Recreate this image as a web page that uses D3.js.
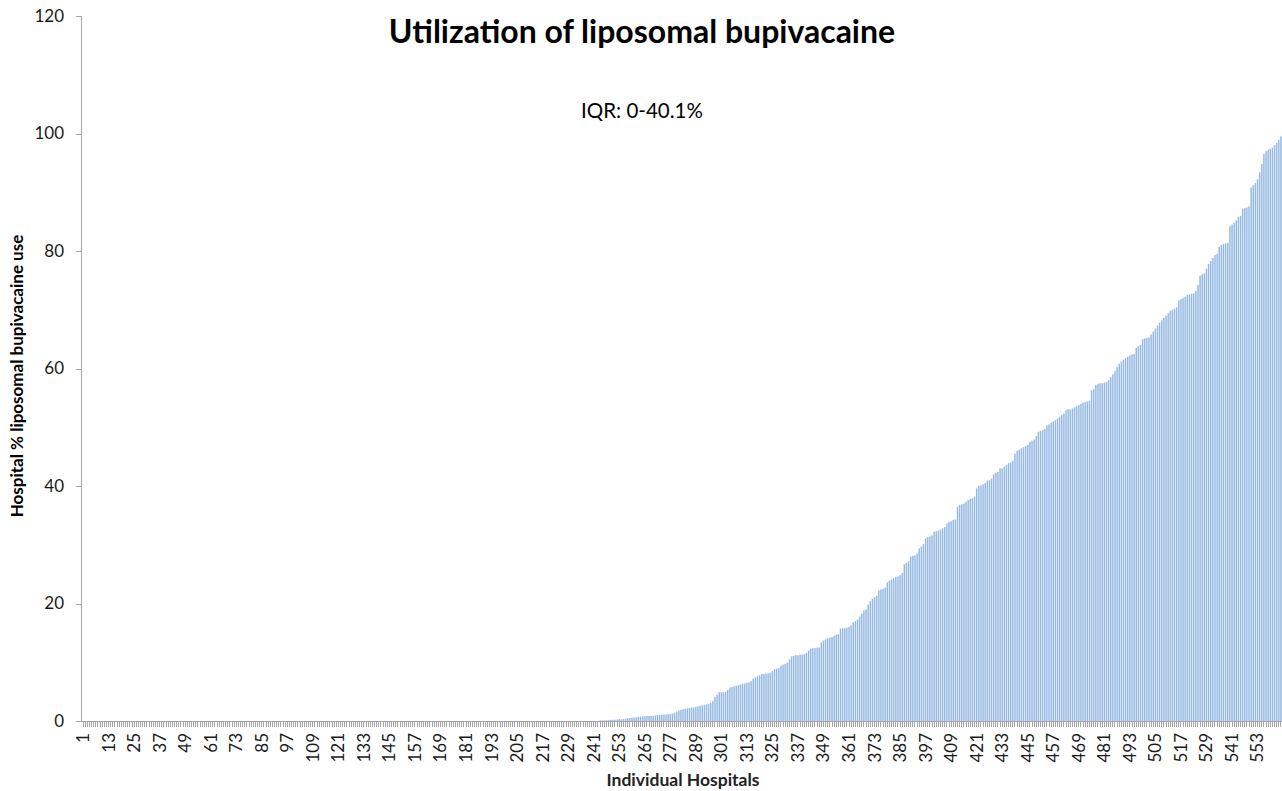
<!DOCTYPE html>
<html>
<meta charset="utf-8">

<head>
    <style>
        body {
            margin: 0;
            background: #fff;
        }

        .bar {
            fill: rgb(150, 185, 228);
        }

        .axis {
            font: 17px Lato, sans-serif;
        }

        .axis path,
        .axis line {
            fill: none;
            stroke: #a6a6a6;
            shape-rendering: crispEdges;
        }

        .axis text {
            fill: #1a1a1a;
        }
    </style>
</head>

<body>
    <div id="chart"></div>
    <script src="https://d3js.org/d3.v7.min.js"></script>

    <script>
        // hospital % liposomal bupivacaine use, sorted ascending
        const zeroHospitals = [
            0,0,0,0,0,0,0,0,0,0,0,0,0,0,0,0,0,0,0,0,0,0,0,0,0,0,0,
            0,0,0,0,0,0,0,0,0,0,0,0,0,0,0,0,0,0,0,0,0,0,0,0,0,0,0,
            0,0,0,0,0,0,0,0,0,0,0,0,0,0,0,0,0,0,0,0,0,0,0,0,0,0,0,
            0,0,0,0,0,0,0,0,0,0,0,0,0,0,0,0,0,0,0,0,0,0,0,0,0,0,0,
            0,0,0,0,0,0,0,0,0,0,0,0,0,0,0,0,0,0,0,0,0,0,0,0,0,0,0,
            0,0,0,0,0,0,0,0,0,0,0,0,0,0,0,0,0,0,0,0,0,0,0,0,0,0,0,
            0,0,0,0,0,0,0,0,0,0,0,0,0,0,0,0,0,0,0,0,0,0,0,0,0,0,0,
            0,0,0,0,0,0,0,0,0,0,0,0,0,0,0,0,0,0,0,0,0,0,0,0,0,0,0,
            0,0,0,0,0,0,0,0,0,0,0,0,0,0,0,0,0,0,0,0,0,0,0,0,0,0,0
        ];
        const usingHospitals = [
            0.1, 0.1, 0.1, 0.15, 0.15, 0.2, 0.2, 0.2, 0.25, 0.3,
            0.3, 0.35, 0.4, 0.45, 0.5, 0.55, 0.6, 0.65, 0.7, 0.75, 0.8,
            0.8, 0.85, 0.85, 0.9, 0.9, 0.95, 1.0, 1.0,
            1.05, 1.1, 1.1, 1.15, 1.2, 1.25, 1.4, 1.6,
            1.8, 1.9, 2.0, 2.1, 2.15, 2.2, 2.3, 2.3,
            2.4, 2.5, 2.6, 2.65, 2.7, 2.8, 2.9, 3.1,
            3.4, 4.1, 4.5, 4.9, 4.9, 4.9, 5.0, 5.3,
            5.7, 5.8, 5.9, 6.0, 6.1, 6.2, 6.3, 6.4,
            6.5, 6.6, 6.8, 7.2, 7.4, 7.6, 7.8, 8.0,
            8.0, 8.1, 8.1, 8.2, 8.5, 8.8, 8.9, 9.0,
            9.4, 9.6, 9.7, 9.9, 10.5, 11.0, 11.1, 11.2,
            11.2, 11.3, 11.3, 11.4, 11.6, 12.0, 12.3, 12.4,
            12.4, 12.5, 12.5, 13.4, 13.7, 13.9, 14.1, 14.2,
            14.3, 14.5, 14.7, 14.8, 15.7, 15.8, 15.8, 15.9,
            16.0, 16.3, 16.8, 17.0, 17.3, 17.8, 18.3, 18.8,
            19.0, 19.8, 20.4, 20.8, 21.1, 21.3, 22.2, 22.4,
            22.5, 22.7, 23.6, 23.9, 24.1, 24.3, 24.5, 24.6,
            24.8, 25.2, 26.7, 26.9, 27.2, 28.0, 28.1, 28.2,
            28.5, 29.4, 29.7, 30.1, 31.1, 31.3, 31.4, 31.6,
            32.2, 32.3, 32.4, 32.6, 32.8, 33.0, 33.6, 33.9,
            34.0, 34.2, 34.3, 36.5, 36.8, 36.9, 37.0, 37.3,
            37.6, 37.8, 37.9, 38.2, 39.6, 40.0, 40.1, 40.3,
            40.5, 40.9, 41.0, 41.3, 42.0, 42.2, 42.4, 43.0,
            43.0, 43.3, 43.6, 43.9, 44.0, 44.3, 45.5, 46.0,
            46.2, 46.4, 46.6, 46.8, 47.0, 47.5, 47.7, 47.9,
            48.5, 49.2, 49.4, 49.5, 49.7, 50.3, 50.5, 50.8,
            51.0, 51.2, 51.5, 51.8, 52.1, 52.3, 52.9, 53.1,
            53.0, 53.2, 53.4, 53.6, 53.8, 54.0, 54.2, 54.3,
            54.4, 54.5, 56.3, 56.5, 57.2, 57.4, 57.5, 57.5,
            57.6, 57.7, 58.0, 58.5, 59.0, 59.6, 60.3, 60.8,
            61.2, 61.5, 61.8, 62.0, 62.2, 62.4, 62.5, 63.5,
            63.8, 64.0, 65.0, 65.1, 65.2, 65.3, 65.8, 66.3,
            66.8, 67.3, 67.8, 68.2, 68.6, 69.0, 69.4, 69.8,
            70.0, 70.2, 70.4, 71.6, 71.8, 72.0, 72.2, 72.5,
            72.6, 72.7, 72.8, 73.2, 74.2, 75.8, 76.0, 76.2,
            77.0, 77.8, 78.3, 78.8, 79.3, 79.5, 80.7, 81.0,
            81.2, 81.3, 81.4, 84.2, 84.5, 84.8, 85.2, 85.8,
            86.0, 87.2, 87.3, 87.4, 87.6, 90.8, 91.2, 91.6,
            92.2, 93.4, 94.8, 96.5, 97.0, 97.2, 97.4, 97.6,
            98.0, 98.4, 98.9, 99.5
        ];

        // x tick labels shown (every 12th hospital)
        const xTickLabels = [1, 13, 25, 37, 49, 61, 73, 85, 97, 109, 121, 133, 145, 157, 169, 181,
            193, 205, 217, 229, 241, 253, 265, 277, 289, 301, 313, 325, 337, 349, 361, 373, 385,
            397, 409, 421, 433, 445, 457, 469, 481, 493, 505, 517, 529, 541, 553];
        const yTickLabels = [0, 20, 40, 60, 80, 100, 120];

        const usage = zeroHospitals.concat(usingHospitals);
        const data = usage.map(function (v, i) { return { hospital: i + 1, pct: v }; });

        const W = 1282, H = 791;
        const plotLeft = 82, plotRight = 1282, plotTop = 16, plotBottom = 721;

        const svg = d3.select("#chart")
            .append("svg")
            .attr("width", W)
            .attr("height", H);

        const x = d3.scaleBand()
            .domain(data.map(function (d) { return d.hospital; }))
            .range([plotLeft, plotRight])
            .paddingInner(0.3)
            .paddingOuter(0.15);

        const y = d3.scaleLinear()
            .domain([0, 120])
            .range([plotBottom, plotTop]);

        // bars
        svg.selectAll(".bar")
            .data(data)
            .join("rect")
            .attr("class", "bar")
            .attr("x", function (d) { return x(d.hospital); })
            .attr("width", x.bandwidth())
            .attr("y", function (d) { return y(d.pct); })
            .attr("height", function (d) { return plotBottom - y(d.pct); });

        // y axis
        svg.append("g")
            .attr("class", "axis")
            .attr("transform", "translate(" + (plotLeft - 1) + ",0)")
            .call(d3.axisLeft(y).tickValues(yTickLabels).tickSize(5).tickSizeOuter(5).tickPadding(12));

        // x axis: a tick per hospital, label every 12th
        const labelSet = new Set(xTickLabels);
        const xAxis = svg.append("g")
            .attr("class", "axis")
            .attr("transform", "translate(0," + plotBottom + ")")
            .call(d3.axisBottom(x)
                .tickSize(6)
                .tickSizeOuter(0)
                .tickFormat(function (d) { return labelSet.has(d) ? d : ""; }));

        xAxis.select(".domain").attr("d", "M" + (plotLeft - 6) + ",0.5H" + plotRight);

        xAxis.selectAll("text")
            .attr("transform", "rotate(-90)")
            .attr("text-anchor", "end")
            .attr("x", -12)
            .attr("y", 0)
            .attr("dy", "0.35em");

        // titles
        svg.append("text")
            .attr("x", 642)
            .attr("y", 43)
            .attr("text-anchor", "middle")
            .style("font", "bold 32px Lato, sans-serif")
            .style("fill", "#000")
            .text("Utilization of liposomal bupivacaine");

        svg.append("text")
            .attr("x", 642)
            .attr("y", 118)
            .attr("text-anchor", "middle")
            .style("font", "20.5px Lato, sans-serif")
            .style("fill", "#000")
            .text("IQR: 0-40.1%");

        svg.append("text")
            .attr("transform", "translate(23,376) rotate(-90)")
            .attr("text-anchor", "middle")
            .style("font", "bold 17px Lato, sans-serif")
            .style("fill", "#000")
            .text("Hospital % liposomal bupivacaine use");

        svg.append("text")
            .attr("x", 683)
            .attr("y", 786)
            .attr("text-anchor", "middle")
            .style("font", "bold 17.5px Lato, sans-serif")
            .style("fill", "#222")
            .text("Individual Hospitals");
    </script>

</body>

</html>
